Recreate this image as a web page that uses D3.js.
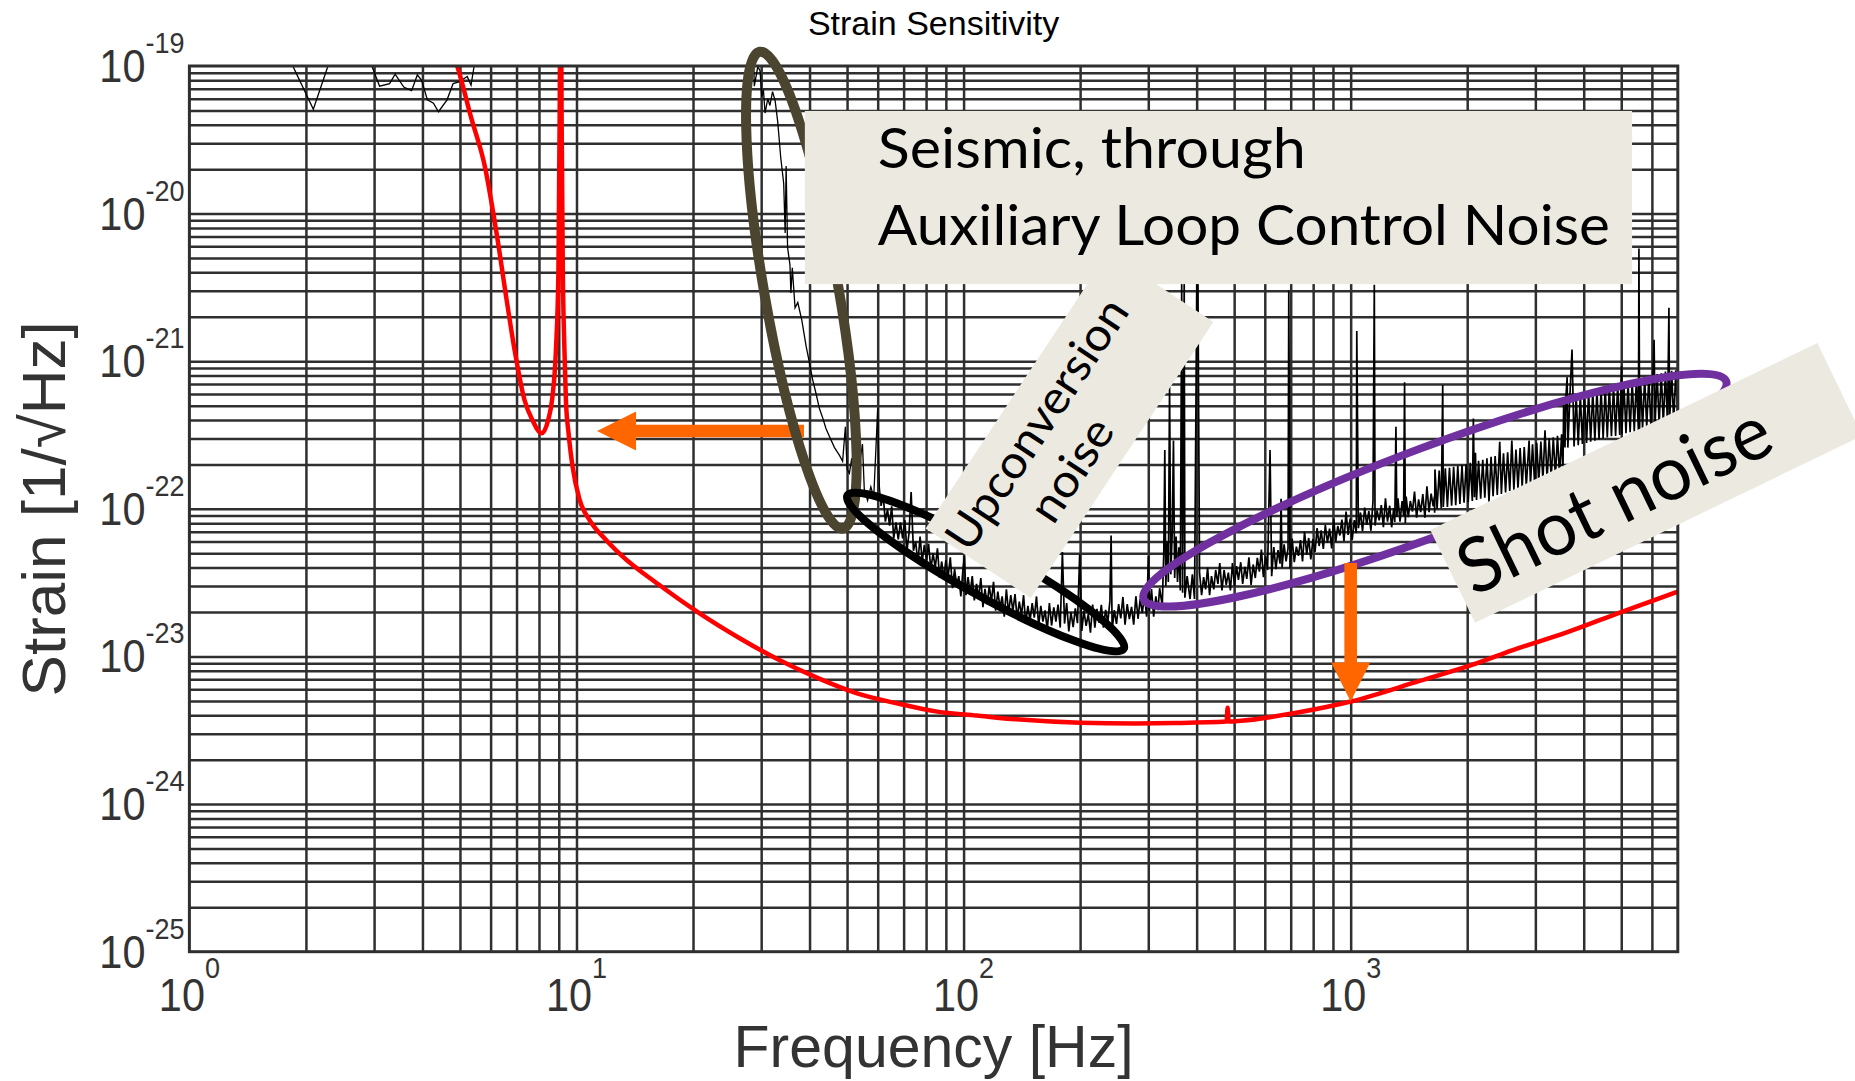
<!DOCTYPE html>
<html>
<head>
<meta charset="utf-8">
<script src="https://cdn.jsdelivr.net/npm/d3@7"></script>
<style>
  body { margin: 0; background: #fff; }
  svg { display: block; }
</style>
</head>
<body>
<svg id="chart" width="1855" height="1081"></svg>
<script>
// ---------------- data ----------------
// Axis decades (powers of ten that get a label)
const xTickExponents = [0, 1, 2, 3];
const yTickExponents = [-25, -24, -23, -22, -21, -20, -19];

// Design sensitivity curve: [frequency Hz, strain 1/sqrt(Hz)]
const designCurve = [
  [4.6, 1.6e-19], [4.92, 1.0e-19], [5.34, 4.5e-20], [5.8, 2.08e-20], [6.22, 7.3e-21],
  [6.6, 2.6e-21], [6.92, 1.19e-21], [7.34, 5.46e-22], [7.69, 4.0e-22], [8.13, 3.25e-22],
  [8.45, 4.0e-22], [8.65, 5.5e-22], [8.85, 1.2e-21], [8.98, 4.0e-21], [9.05, 5.0e-20],
  [9.10, 1.0e-18], [9.15, 5.0e-20], [9.22, 4.0e-21], [9.30, 1.3e-21], [9.39, 5.46e-22],
  [9.54, 3.25e-22], [9.77, 1.93e-22], [10.19, 1.15e-22], [10.81, 8.4e-23], [11.89, 6.2e-23],
  [13.0, 4.9e-23], [16.5, 3.0e-23], [20.8, 1.96e-23], [26.4, 1.33e-23], [33.3, 9.5e-24],
  [42.2, 7.1e-24], [53.3, 5.6e-24], [67.6, 4.8e-24], [85.5, 4.23e-24], [108, 3.98e-24],
  [137, 3.75e-24], [200, 3.56e-24], [278, 3.52e-24], [352, 3.54e-24], [478, 3.62e-24],
  [481, 4.5e-24], [484, 3.62e-24], [522, 3.67e-24], [741, 4.2e-24], [1000, 4.95e-24],
  [1500, 6.8e-24], [2123, 9.0e-24], [2611, 1.1e-23], [3600, 1.45e-23], [5000, 2.0e-23],
  [7000, 2.75e-23]
];

// Measured strain spectrum, split by band: [frequency Hz, strain 1/sqrt(Hz)]
const measuredLow = [
  [1.0, 3e-19], [1.80, 2e-19], [1.85, 1.0e-19], [2.09, 5.1e-20], [2.28, 1.0e-19], [2.35, 2e-19],
  [2.90, 2e-19], [2.96, 1.0e-19], [3.10, 7.3e-20], [3.29, 7.6e-20], [3.40, 8.8e-20], [3.58, 7.2e-20],
  [3.75, 6.8e-20], [3.88, 8.7e-20], [3.98, 8.0e-20], [4.12, 5.9e-20], [4.27, 5.6e-20], [4.40, 4.9e-20],
  [4.63, 5.9e-20], [4.80, 7.6e-20], [4.97, 7.8e-20], [5.22, 8.5e-20], [5.34, 7.4e-20], [5.44, 1.0e-19],
  [5.60, 2e-19], [28.5, 2e-19]
];

const measuredSeismic = [
  [28.8, 7.3e-20], [29.4, 9.9e-20], [29.8, 9.3e-20], [30.1, 6.2e-20], [30.4, 6.9e-20], [30.7, 4.8e-20],
  [31.2, 6.0e-20], [31.6, 5.4e-20], [32.1, 6.7e-20], [32.6, 5.8e-20], [33.1, 4.2e-20], [33.7, 2.4e-20],
  [34.3, 1.6e-20], [34.6, 7.4e-21], [34.8, 2.1e-20], [35.1, 5.9e-21], [35.6, 4.5e-21], [35.8, 2.9e-21],
  [36.1, 4.3e-21], [36.7, 2.3e-21], [37.3, 2.5e-21], [38.2, 1.9e-21], [39.2, 1.26e-21], [39.9, 1.0e-21],
  [40.7, 7.6e-22], [41.6, 6.0e-22], [42.4, 4.8e-22], [43.3, 4.1e-22], [44.1, 3.5e-22], [45.0, 3.1e-22],
  [46.4, 2.6e-22], [47.8, 2.3e-22], [48.7, 2.1e-22], [49.5, 3.6e-22], [50.0, 1.86e-22], [50.7, 1.74e-22],
  [51.4, 2.2e-22], [52.2, 1.48e-22], [53.3, 1.66e-22], [54.8, 2.75e-22], [55.4, 1.35e-22], [56.5, 1.14e-22],
  [57.6, 1.41e-22], [58.6, 1.2e-22], [60.0, 4.8e-22], [60.6, 1.41e-22], [61.2, 1.05e-22]
];

const measuredBucket = [
  [62, 1.22e-22], [62.8, 8.2e-23], [63.6, 9.9e-23], [64.4, 7.7e-23], [65.2, 1.04e-22], [66, 6.3e-23],
  [66.9, 8.1e-23], [67.8, 6.2e-23], [68.7, 8.1e-23], [69.6, 6.3e-23], [70.5, 8.4e-23], [71.4, 5.2e-23],
  [72.3, 6.9e-23], [73.2, 1.3e-22], [74.2, 5.2e-23], [75.2, 6.0e-23], [76.2, 4.3e-23], [77.2, 6.5e-23],
  [78.2, 4.4e-23], [79.2, 5.7e-23], [80.2, 4.5e-23], [81.2, 5.8e-23], [82.3, 3.9e-23], [83.4, 5.0e-23],
  [84.5, 4.0e-23], [85.6, 5.4e-23], [86.7, 3.4e-23], [87.8, 4.4e-23], [88.9, 3.4e-23], [90, 4.5e-23],
  [91.2, 3.45e-23], [92.4, 4.7e-23], [93.6, 2.9e-23], [94.8, 3.9e-23], [96, 3.0e-23], [97.2, 3.5e-23],
  [98.4, 2.55e-23], [99.6, 3.85e-23], [100.5, 4.8e-23], [101.4, 2.6e-23], [102.7, 3.45e-23], [104, 2.7e-23],
  [105.3, 3.5e-23], [106.6, 2.4e-23], [108, 3.1e-23], [109.4, 2.5e-23], [110.8, 3.4e-23], [112.2, 2.16e-23],
  [113.6, 2.87e-23], [115, 2.25e-23], [116.5, 3.0e-23], [118, 2.35e-23], [119.5, 3.2e-23], [121, 2.04e-23],
  [122.6, 2.75e-23], [124.2, 2.14e-23], [125.8, 2.55e-23], [127.4, 1.86e-23], [129, 2.85e-23], [130.7, 1.96e-23],
  [132.4, 2.6e-23], [134.1, 2.04e-23], [135.8, 2.65e-23], [137.5, 1.81e-23], [139.3, 2.35e-23], [141.1, 1.9e-23],
  [142.9, 2.6e-23], [144.7, 1.66e-23], [146.6, 2.2e-23], [148.5, 1.75e-23], [150.4, 2.3e-23], [152.3, 1.83e-23],
  [154.3, 2.55e-23], [156.3, 1.62e-23], [158.3, 2.2e-23], [160.3, 1.72e-23], [162.4, 2.05e-23], [164.5, 1.51e-23],
  [166.6, 2.3e-23], [168.8, 1.62e-23], [171, 2.15e-23], [173.2, 1.72e-23], [175.4, 2.25e-23], [177.7, 1.57e-23],
  [180, 5.1e-23], [182.3, 1.67e-23], [184.6, 2.3e-23], [187, 1.48e-23], [189.4, 2.0e-23], [191.9, 1.58e-23],
  [194.4, 2.12e-23], [196.9, 1.68e-23], [199.5, 4.9e-23], [202, 1.49e-23], [204.6, 2.04e-23], [207.3, 1.61e-23],
  [210, 1.94e-23], [212.7, 1.45e-23], [215.5, 2.25e-23], [218.3, 1.57e-23], [221.1, 2.1e-23], [224, 1.69e-23],
  [226.9, 2.24e-23], [229.8, 1.57e-23], [232.8, 2.07e-23], [235.8, 1.7e-23], [238.8, 2.38e-23], [240.5, 6.6e-23],
  [242, 1.52e-23], [245.1, 2.06e-23], [248.3, 1.66e-23], [251.5, 2.26e-23], [254.7, 1.81e-23], [258, 2.53e-23],
  [261.3, 1.64e-23], [264.7, 2.26e-23], [268.1, 1.79e-23], [271.6, 2.17e-23], [275.1, 1.64e-23], [278.7, 2.56e-23],
  [282.3, 1.8e-23], [285.9, 2.45e-23], [289.6, 1.97e-23], [293.3, 2.64e-23], [297.1, 1.86e-23], [300.3, 4.8e-23],
  [302, 2.03e-23], [305.8, 2.86e-23], [309.8, 1.86e-23], [313.8, 2.55e-23], [317.8, 2.06e-23]
];

const measuredMid = [
  [321, 2.9e-23], [326, 2.2e-23], [329, 5.0e-23], [331, 2.5e-22], [333, 3.0e-23], [336, 6.0e-23],
  [338, 3.2e-23], [340.5, 6.8e-22], [343, 3.6e-23], [346, 7.0e-23], [348.5, 2.9e-22], [351, 3.4e-23],
  [354, 6.5e-23], [357, 3.2e-23], [360, 5.5e-23], [363, 2.8e-23], [366, 3.4e-21], [368, 2.7e-23],
  [371.5, 3.4e-21], [373, 2.5e-23], [378, 3.5e-23], [384.7, 2.45e-23], [390, 3.6e-23], [395, 2.45e-23],
  [402, 1.2e-20], [407, 3.7e-23], [412, 2.6e-23], [417, 3.45e-23], [422, 2.85e-23], [427, 4.0e-23],
  [432, 2.6e-23], [437, 3.5e-23], [443, 2.85e-23], [448, 3.85e-23], [454, 3.1e-23], [459, 4.3e-23],
  [465, 2.8e-23], [471, 3.85e-23], [477, 3.05e-23], [483, 3.7e-23], [489, 2.8e-23], [495, 4.3e-23],
  [501, 3.0e-23], [507, 4.1e-23], [513, 3.3e-23], [520, 4.35e-23], [526, 3.1e-23], [533, 4.05e-23],
  [539, 3.35e-23], [546, 4.7e-23], [553, 3.05e-23], [560, 4.2e-23], [567, 3.4e-23], [574, 4.65e-23],
  [581, 3.75e-23], [588, 5.3e-23], [595, 3.45e-23], [603, 4.8e-23], [610, 3.85e-23], [619, 2.5e-22],
  [625, 3.5e-23], [633, 5.5e-23], [641, 3.9e-23], [649, 5.25e-23], [657, 4.25e-23], [661, 1.17e-22],
  [665, 4.0e-23], [673, 5.75e-23], [681, 4.4e-23], [689, 5.4e-23], [692, 3.0e-21], [697, 3.95e-23],
  [706, 6.3e-23], [715, 4.35e-23], [724, 5.55e-23], [733, 4.8e-23], [742, 6.15e-23], [751, 4.4e-23],
  [760, 7.0e-23], [770, 4.9e-23], [779, 6.35e-23], [789, 4.55e-23], [799, 6.25e-23], [809, 5.1e-23],
  [819, 7.4e-23], [829, 5.6e-23], [839, 7.15e-23], [850, 5.35e-23], [860, 7.8e-23], [871, 5.9e-23],
  [882, 7.35e-23], [893, 5.4e-23], [904, 8.6e-23], [915, 6.0e-23], [926, 7.65e-23], [938, 6.6e-23],
  [949, 8.45e-23], [961, 6.05e-23], [973, 9.6e-23], [985, 6.65e-23], [997, 8.6e-23], [1009, 6.15e-23],
  [1022, 8.4e-23], [1034, 6.85e-23], [1037, 1.6e-21], [1047, 7.4e-23], [1060, 9.45e-23], [1073, 7.05e-23],
  [1087, 1.02e-22], [1100, 7.8e-23], [1114, 9.65e-23], [1128, 7.1e-23], [1142, 1.12e-22], [1151, 3.3e-21],
  [1156, 7.7e-23], [1170, 9.75e-23], [1185, 8.35e-23], [1200, 1.06e-22], [1215, 7.5e-23], [1230, 1.18e-22],
  [1245, 8.2e-23], [1261, 1.05e-22], [1276, 7.5e-23], [1292, 1.01e-22], [1300, 8.15e-23], [1309, 3.6e-22],
  [1316, 8.8e-23], [1325, 1.18e-22], [1341, 8.2e-23], [1358, 1.13e-22], [1370, 9.0e-23], [1378, 7.2e-22],
  [1384, 8.0e-23], [1391, 1.21e-22], [1409, 8.8e-23], [1426, 1.13e-22], [1444, 9.6e-23], [1462, 1.31e-22],
  [1480, 8.7e-23], [1498, 1.16e-22], [1517, 9.5e-23], [1536, 1.26e-22], [1555, 8.7e-23], [1574, 1.42e-22],
  [1594, 9.5e-23], [1614, 1.27e-22], [1634, 1.04e-22], [1645, 1.21e-22], [1648, 9.4e-23]
];

const measuredHigh = [
  [1651, 1.85e-22], [1672, 1.0e-22],
  [1693, 1.82e-22], [1714, 1.01e-22], [1729, 6.9e-22], [1735, 1.03e-22], [1756, 1.88e-22], [1778, 1.03e-22],
  [1800, 1.9e-22], [1823, 1.05e-22], [1845, 1.93e-22], [1868, 1.06e-22], [1891, 1.95e-22], [1915, 1.08e-22],
  [1939, 1.98e-22], [1963, 1.1e-22], [1987, 2.0e-22], [2012, 1.11e-22], [2037, 2.05e-22], [2062, 1.13e-22],
  [2075, 4.1e-22], [2088, 1.2e-22], [2101, 2.4e-22], [2114, 1.15e-22], [2140, 2.12e-22], [2167, 1.17e-22],
  [2194, 2.15e-22], [2221, 1.19e-22], [2249, 2.2e-22], [2277, 1.12e-22], [2305, 2.25e-22], [2333, 1.22e-22],
  [2362, 2.28e-22], [2392, 1.24e-22], [2427, 2.85e-22], [2451, 1.26e-22], [2482, 2.38e-22], [2513, 1.29e-22],
  [2544, 2.42e-22], [2576, 1.32e-22], [2608, 2.9e-22], [2640, 1.34e-22], [2673, 2.52e-22], [2706, 1.37e-22],
  [2740, 2.58e-22], [2774, 1.4e-22], [2808, 2.62e-22], [2843, 1.43e-22], [2890, 2.9e-22], [2914, 1.45e-22],
  [2950, 2.74e-22], [2987, 1.48e-22], [3024, 2.8e-22], [3062, 1.51e-22], [3100, 2.86e-22], [3138, 1.55e-22],
  [3177, 3.4e-22], [3217, 1.58e-22], [3257, 3.0e-22], [3297, 1.62e-22], [3338, 3.05e-22], [3380, 1.66e-22],
  [3422, 3.12e-22], [3464, 1.68e-22], [3507, 3.2e-22], [3535, 1.71e-22], [3551, 5.7e-22], [3578, 2.6e-22],
  [3600, 5.8e-22], [3624, 7.8e-22], [3640, 2.6e-22], [3685, 5.9e-22], [3731, 1.2e-21], [3777, 2.65e-22],
  [3824, 5.9e-22], [3872, 2.7e-22], [3920, 6.0e-22], [3969, 2.75e-22], [4018, 6.1e-22], [4068, 2.8e-22],
  [4118, 6.2e-22], [4169, 2.85e-22], [4221, 6.3e-22], [4274, 2.9e-22], [4327, 6.4e-22], [4381, 2.95e-22],
  [4435, 6.5e-22], [4490, 3.0e-22], [4546, 6.6e-22], [4602, 3.05e-22], [4659, 6.7e-22], [4717, 3.1e-22],
  [4776, 6.8e-22], [4835, 3.12e-22], [4895, 7.0e-22], [4955, 3.17e-22], [5010, 9.3e-22], [5018, 3.2e-22],
  [5080, 7.1e-22], [5143, 3.25e-22], [5207, 7.2e-22], [5272, 3.3e-22], [5337, 7.4e-22], [5403, 3.35e-22],
  [5470, 7.5e-22], [5539, 3.4e-22], [5555, 5.8e-21], [5577, 3.45e-22], [5607, 7.6e-22], [5677, 3.5e-22],
  [5747, 7.8e-22], [5819, 3.55e-22], [5891, 7.9e-22], [5964, 3.6e-22], [6038, 8.0e-22], [6080, 1.4e-21],
  [6113, 3.65e-22], [6189, 8.2e-22], [6266, 3.7e-22], [6344, 8.3e-22], [6423, 3.72e-22], [6503, 8.5e-22],
  [6584, 3.77e-22], [6640, 2.3e-21], [6666, 3.8e-22], [6748, 8.6e-22], [6832, 3.85e-22], [6917, 8.7e-22],
  [7003, 3.9e-22], [7090, 8.8e-22]
];

// Annotation callout texts
const seismicLines = ["Seismic, through", "Auxiliary Loop Control Noise"];
const upconversionLines = ["Upconversion", "noise"];
const shotLabel = "Shot noise";

// ---------------- layout ----------------
const plot = { left: 189.4, right: 1677.8, top: 66, bottom: 951.7 };
const gridColor = "#2f2f2f";
const calloutFill = "#ECEAE0";
const axisFont = "'Liberation Sans', Arial, Helvetica, sans-serif";
const calloutFont = "Lato, 'Open Sans', sans-serif";
const labelSqueeze = 0.9;   // tick numerals are set slightly condensed

const svg = d3.select("#chart");

const x = d3.scaleLog().domain([1, 7000]).range([plot.left, plot.right]);
const y = d3.scaleLog().domain([1e-25, 1e-19]).range([plot.bottom, plot.top]);

svg.append("defs").append("clipPath").attr("id", "plotClip")
  .append("rect")
  .attr("x", plot.left).attr("y", plot.top)
  .attr("width", plot.right - plot.left).attr("height", plot.bottom - plot.top);

// ---------------- grid ----------------
const xGridValues = x.ticks().filter(v => v > 1 && v < 7000);
const yGridValues = y.ticks().filter(v => v > 1.01e-25 && v < 0.99e-19);

const gridG = svg.append("g");
gridG.append("g")
  .attr("transform", `translate(0,${plot.bottom})`)
  .call(d3.axisBottom(x).tickValues(xGridValues).tickSize(-(plot.bottom - plot.top)).tickFormat(""))
  .call(g => g.select(".domain").remove())
  .call(g => g.selectAll("line").attr("stroke", gridColor).attr("stroke-width", 2.5));
gridG.append("g")
  .attr("transform", `translate(${plot.left},0)`)
  .call(d3.axisLeft(y).tickValues(yGridValues).tickSize(-(plot.right - plot.left)).tickFormat(""))
  .call(g => g.select(".domain").remove())
  .call(g => g.selectAll("line").attr("stroke", gridColor).attr("stroke-width", 2.5));

// ---------------- curves ----------------
const line = d3.line().x(d => x(d[0])).y(d => y(d[1]));
const dataG = svg.append("g").attr("clip-path", "url(#plotClip)");

// low-frequency part and seismic wall: thin trace
dataG.append("path")
  .datum(measuredLow.concat(measuredSeismic))
  .attr("d", line)
  .attr("fill", "none").attr("stroke", "#000").attr("stroke-width", 1.3);

// bucket and high-frequency band: dense trace
dataG.append("path")
  .datum(measuredSeismic.slice(-1).concat(measuredBucket, measuredMid, measuredHigh))
  .attr("d", line)
  .attr("fill", "none").attr("stroke", "#000").attr("stroke-width", 1.7)
  .attr("stroke-linejoin", "miter").attr("stroke-miterlimit", 2);

dataG.append("path")
  .datum(designCurve)
  .attr("d", d3.line().x(d => x(d[0])).y(d => y(d[1])).curve(d3.curveMonotoneX))
  .attr("fill", "none")
  .attr("stroke", "#FF0000")
  .attr("stroke-width", 4.5)
  .attr("stroke-linejoin", "round");

// axes frame
svg.append("rect")
  .attr("x", plot.left).attr("y", plot.top)
  .attr("width", plot.right - plot.left).attr("height", plot.bottom - plot.top)
  .attr("fill", "none").attr("stroke", gridColor).attr("stroke-width", 3);

// ---------------- tick labels ----------------
function powerLabel(g, px, py, exponent, anchor, raise) {
  const t = g.append("text")
    .attr("transform", `translate(${px},${py}) scale(${labelSqueeze},1)`)
    .attr("text-anchor", anchor)
    .attr("font-size", 46);
  t.append("tspan").text("10");
  t.append("tspan").attr("dy", -raise).attr("font-size", 30).text(String(exponent));
}

const xLab = svg.append("g").attr("font-family", axisFont).attr("fill", "#333");
xTickExponents.forEach(e => powerLabel(xLab, x(Math.pow(10, e)), plot.bottom + 59, e, "middle", 33));

const yLab = svg.append("g").attr("font-family", axisFont).attr("fill", "#333");
yTickExponents.forEach(e => powerLabel(yLab, plot.left - 5, y(Math.pow(10, e)) + 16, e, "end", 29));

// titles
svg.append("text")
  .attr("x", (plot.left + plot.right) / 2).attr("y", 35)
  .attr("text-anchor", "middle")
  .attr("font-family", axisFont).attr("font-size", 34).attr("fill", "#000")
  .text("Strain Sensitivity");

svg.append("text")
  .attr("x", (plot.left + plot.right) / 2).attr("y", 1067)
  .attr("text-anchor", "middle")
  .attr("font-family", axisFont).attr("font-size", 59).attr("fill", "#333")
  .text("Frequency [Hz]");

svg.append("text")
  .attr("transform", `translate(65,${(plot.top + plot.bottom) / 2}) rotate(-90)`)
  .attr("text-anchor", "middle")
  .attr("font-family", axisFont).attr("font-size", 62).attr("fill", "#333")
  .text("Strain [1/\u221AHz]");

// ---------------- annotations ----------------
const ann = svg.append("g");

function arrow(g, f0, h0, f1, h1, color) {
  const x0 = x(f0), y0 = y(h0), x1 = x(f1), y1 = y(h1);
  const len = Math.hypot(x1 - x0, y1 - y0);
  const ang = Math.atan2(y1 - y0, x1 - x0) * 180 / Math.PI;
  const shaft = 6.3, headLen = 39, headHalf = 19.5;
  const pts = [[0, -shaft], [len - headLen, -shaft], [len - headLen, -headHalf], [len, 0],
               [len - headLen, headHalf], [len - headLen, shaft], [0, shaft]];
  g.append("polygon")
    .attr("points", pts.map(p => p.join(",")).join(" "))
    .attr("fill", color)
    .attr("transform", `translate(${x0},${y0}) rotate(${ang})`);
}

function ellipse(g, f, h, rx, ry, angle, color, width) {
  g.append("ellipse")
    .attr("cx", 0).attr("cy", 0).attr("rx", rx).attr("ry", ry)
    .attr("fill", "none").attr("stroke", color).attr("stroke-width", width)
    .attr("transform", `translate(${x(f)},${y(h)}) rotate(${angle})`);
}

// arrow towards the low-frequency end of the design curve
arrow(ann, 38.7, 3.37e-22, 11.3, 3.37e-22, "#FF6600");

// seismic wall
ellipse(ann, 38.1, 3.03e-21, 242, 37, 80.1, "#4B4530", 10);

// upconversion: black ellipse under its rotated callout
ellipse(ann, 114, 3.73e-23, 158, 24, 29, "#000", 8);
const up = ann.append("g")
  .attr("transform", `translate(${x(187.8)},${y(3.69e-22)}) rotate(-56.5)`);
up.append("rect").attr("x", -165.5).attr("y", -63).attr("width", 331).attr("height", 126)
  .attr("fill", calloutFill);
up.append("text").attr("x", -17).attr("y", -12).attr("text-anchor", "middle")
  .attr("font-family", calloutFont).attr("font-size", 46).attr("fill", "#000")
  .attr("textLength", 291).attr("lengthAdjust", "spacingAndGlyphs")
  .text(upconversionLines[0]);
up.append("text").attr("x", -36).attr("y", 42).attr("text-anchor", "middle")
  .attr("font-family", calloutFont).attr("font-size", 46).attr("fill", "#000")
  .attr("textLength", 114).attr("lengthAdjust", "spacingAndGlyphs")
  .text(upconversionLines[1]);

// seismic callout, drawn over the corner of the upconversion box
const sx0 = x(38.9), sy0 = y(4.96e-20), sx1 = x(5333), sy1 = y(3.33e-21);
ann.append("rect")
  .attr("x", sx0).attr("y", sy0).attr("width", sx1 - sx0).attr("height", sy1 - sy0)
  .attr("fill", calloutFill);
ann.append("text").attr("x", sx0 + 73).attr("y", sy0 + 57)
  .attr("font-family", calloutFont).attr("font-size", 56).attr("fill", "#000")
  .attr("textLength", 428).attr("lengthAdjust", "spacingAndGlyphs")
  .text(seismicLines[0]);
ann.append("text").attr("x", sx0 + 73).attr("y", sy0 + 134)
  .attr("font-family", calloutFont).attr("font-size", 56).attr("fill", "#000")
  .attr("textLength", 732).attr("lengthAdjust", "spacingAndGlyphs")
  .text(seismicLines[1]);

// shot noise region
ellipse(ann, 1650, 1.34e-22, 311, 44, -20.5, "#7030A0", 8);
arrow(ann, 1000, 4.3e-23, 1000, 4.95e-24, "#FF6600");

const shot = ann.append("g")
  .attr("transform", `translate(${x(5801)},${y(1.5e-22)}) rotate(-25.8)`);
shot.append("rect").attr("x", -215).attr("y", -51.5).attr("width", 430).attr("height", 103)
  .attr("fill", calloutFill);
shot.append("text").attr("x", -205).attr("y", 27.5)
  .attr("font-family", calloutFont).attr("font-size", 76).attr("fill", "#000")
  .attr("textLength", 338).attr("lengthAdjust", "spacingAndGlyphs")
  .text(shotLabel);
</script>
</body>
</html>
